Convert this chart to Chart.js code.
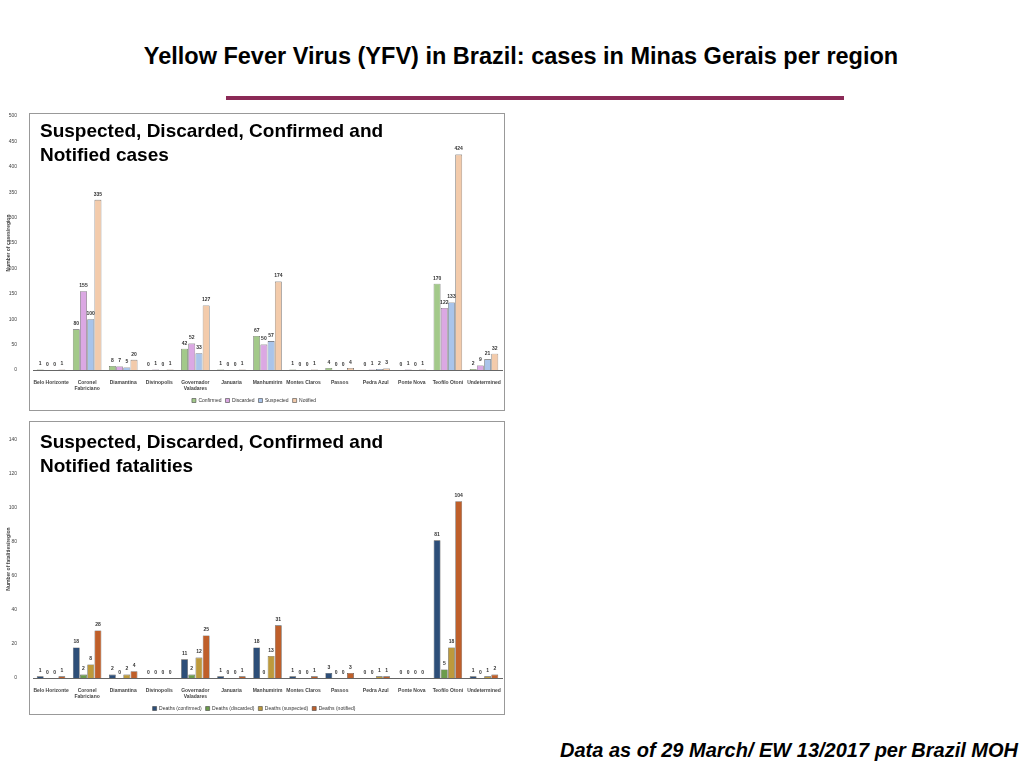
<!DOCTYPE html>
<html>
<head>
<meta charset="utf-8">
<script src="https://cdn.jsdelivr.net/npm/chart.js@4"></script>
<style>
  body { margin: 0; width: 1024px; height: 768px; background: #fff; position: relative; font-family: "Liberation Sans", Arial, sans-serif; overflow: hidden; }
  #title { position: absolute; top: 43px; left: 0; width: 1042px; text-align: center; font-size: 23.5px; font-weight: bold; }
  #rule { position: absolute; left: 226px; top: 96px; width: 618px; height: 4px; background: #8b2a56; }
  .frame { position: absolute; left: 29px; width: 474px; border: 1px solid #999; }
  .wrap { position: absolute; left: 6px; width: 498px; }
  .sub { position: absolute; left: 40px; font-size: 19px; font-weight: bold; line-height: 24px; }
  #foot { position: absolute; right: 6px; top: 739px; font-size: 20px; font-weight: bold; font-style: italic; }
</style>
</head>
<body>
<div id="title">Yellow Fever Virus (YFV) in Brazil: cases in Minas Gerais per region</div>
<div id="rule"></div>
<div class="frame" style="top:113px;height:296px"></div>
<div class="wrap" style="top:105px;height:308px"><canvas id="cases"></canvas></div>
<div class="sub" style="top:119px">Suspected, Discarded, Confirmed and<br>Notified cases</div>
<div class="frame" style="top:421px;height:292px"></div>
<div class="wrap" style="top:429px;height:292px"><canvas id="deaths"></canvas></div>
<div class="sub" style="top:430px">Suspected, Discarded, Confirmed and<br>Notified fatalities</div>
<div id="foot">Data as of 29 March/ EW 13/2017 per Brazil MOH</div>
<script>
const regions = [['Belo Horizonte'], ['Coronel', 'Fabriciano'], ['Diamantina'], ['Divinopolis'], ['Governador', 'Valadares'], ['Januaria'], ['Manhumirim'], ['Montes Claros'], ['Passos'], ['Pedra Azul'], ['Ponte Nova'], ['Teofilo Otoni'], ['Undetermined']];

const confirmed = [1, 80, 8, 0, 42, 1, 67, 1, 4, 0, 0, 170, 2];
const discarded = [0, 155, 7, 1, 52, 0, 50, 0, 0, 1, 1, 122, 9];
const suspected = [0, 100, 5, 0, 33, 0, 57, 0, 0, 2, 0, 133, 21];
const notified = [1, 335, 20, 1, 127, 1, 174, 1, 4, 3, 1, 424, 32];

const deathsConfirmed = [1, 18, 2, 0, 11, 1, 18, 1, 3, 0, 0, 81, 1];
const deathsDiscarded = [0, 2, 0, 0, 2, 0, 0, 0, 0, 0, 0, 5, 0];
const deathsSuspected = [0, 8, 2, 0, 12, 0, 13, 0, 0, 1, 0, 18, 1];
const deathsNotified = [1, 28, 4, 0, 25, 1, 31, 1, 3, 1, 0, 104, 2];

// Small value labels above every bar
const valueLabels = {
    id: 'valueLabels',
    afterDatasetsDraw(chart) {
        const ctx = chart.ctx;
        ctx.save();
        ctx.font = 'bold 5px "Liberation Sans", Arial';
        ctx.fillStyle = '#333';
        ctx.textAlign = 'center';
        ctx.textBaseline = 'bottom';
        chart.data.datasets.forEach((ds, i) => {
            chart.getDatasetMeta(i).data.forEach((bar, j) => {
                ctx.fillText(ds.data[j], bar.x, bar.y - 3);
            });
        });
        ctx.restore();
    }
};

function makeChart(id, series, colors, names, max, step, yTitle) {
    return new Chart(document.getElementById(id), {
        type: 'bar',
        data: {
            labels: regions,
            datasets: series.map((s, i) => ({
                label: names[i],
                data: s,
                backgroundColor: colors[i],
                borderColor: '#444',
                borderWidth: 0.6,
                categoryPercentage: 0.8,
                barPercentage: 0.95
            }))
        },
        options: {
            responsive: true,
            maintainAspectRatio: false,
            animation: false,
            layout: { padding: { top: 4, right: 2 } },
            plugins: {
                legend: {
                    position: 'bottom',
                    labels: { boxWidth: 4, boxHeight: 4, padding: 4, font: { size: 5 }, color: '#333' }
                },
                tooltip: { enabled: false }
            },
            scales: {
                x: {
                    grid: { display: false },
                    border: { color: '#666' },
                    ticks: { font: { size: 5, weight: 'bold' }, color: '#444', maxRotation: 0, autoSkip: false, padding: 2 }
                },
                y: {
                    min: 0, max: max,
                    ticks: { stepSize: step, font: { size: 5 }, color: '#444', padding: 8 },
                    grid: { display: false },
                    border: { display: false },
                    title: { display: true, text: yTitle, font: { size: 5, weight: 'bold' }, color: '#444', padding: 0 },
                    afterFit: (scale) => { scale.width = 27; }
                }
            }
        },
        plugins: [valueLabels]
    });
}

makeChart('cases', [confirmed, discarded, suspected, notified],
    ['#a3c98a', '#dba8e3', '#a9c4ea', '#f3cbab'],
    ['Confirmed', 'Discarded', 'Suspected', 'Notified'], 500, 50, 'Number of cases/region');

makeChart('deaths', [deathsConfirmed, deathsDiscarded, deathsSuspected, deathsNotified],
    ['#2d4e78', '#6c9c4c', '#bd9a3c', '#bf5f2a'],
    ['Deaths (confirmed)', 'Deaths (discarded)', 'Deaths (suspected)', 'Deaths (notified)'], 140, 20, 'Number of fatalities/region');
</script>
</body>
</html>
